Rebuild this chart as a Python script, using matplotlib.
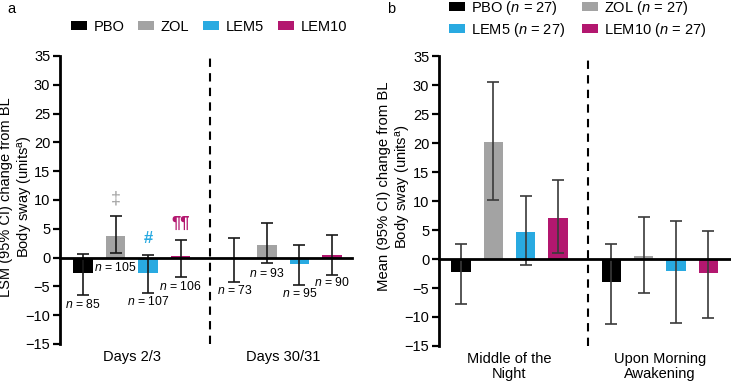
import matplotlib
matplotlib.use("Agg")
import matplotlib.pyplot as plt
from matplotlib.patches import Patch
import numpy as np

plt.rcParams['font.family'] = ['Liberation Sans', 'DejaVu Sans']
plt.rcParams['mathtext.fontset'] = 'custom'
plt.rcParams['mathtext.rm'] = 'Liberation Sans'
plt.rcParams['mathtext.it'] = 'Liberation Sans:italic'

# ---------------- data ----------------
treatments = ['PBO', 'ZOL', 'LEM5', 'LEM10']
colors = ['#000000', '#a3a3a3', '#29aae1', '#b3176f']

# Panel a (LSM change from BL), groups: Days 2/3, Days 30/31
groups_a = ['Days 2/3', 'Days 30/31']
mean_a = {'PBO': [-2.7, -0.2], 'ZOL': [3.8, 2.2], 'LEM5': [-2.6, -1.1], 'LEM10': [0.2, 0.4]}
lo_a = {'PBO': [-6.5, -4.2], 'ZOL': [0.8, -0.9], 'LEM5': [-6.1, -4.7], 'LEM10': [-3.4, -3.0]}
hi_a = {'PBO': [0.6, 3.4], 'ZOL': [7.3, 6.0], 'LEM5': [0.5, 2.2], 'LEM10': [3.0, 4.0]}
n_a = {'PBO': [85, 73], 'ZOL': [105, 93], 'LEM5': [107, 95], 'LEM10': [106, 90]}
sig_a = {'ZOL': '‡', 'LEM5': '#', 'LEM10': '¶¶'}

# Panel b (Mean change from BL), groups: Middle of the Night, Upon Morning Awakening
groups_b = ['Middle of the\nNight', 'Upon Morning\nAwakening']
mean_b = {'PBO': [-2.2, -3.9], 'ZOL': [20.1, 0.5], 'LEM5': [4.7, -2.0], 'LEM10': [7.0, -2.4]}
lo_b = {'PBO': [-7.8, -11.2], 'ZOL': [10.1, -5.9], 'LEM5': [-1.0, -11.0], 'LEM10': [1.0, -10.1]}
hi_b = {'PBO': [2.6, 2.6], 'ZOL': [30.6, 7.2], 'LEM5': [10.9, 6.5], 'LEM10': [13.7, 4.8]}
n_b = 27

yticks = list(range(-15, 40, 5))

# ---------------- layout ----------------
fig = plt.figure(figsize=(7.31, 3.84), dpi=100)
ax_a = fig.add_axes([0.0821, 0.1042, 0.3995, 0.75])
ax_b = fig.add_axes([0.6005, 0.0990, 0.3995, 0.755])

group_offset = 4.66
bar_w = 0.6


def draw_panel(ax, groups, mean, lo, hi, ecolor, xlim):
    for gi in range(len(groups)):
        for ti, t in enumerate(treatments):
            x = gi * group_offset + ti
            m = mean[t][gi]
            ax.bar(x, m, width=bar_w, color=colors[ti], zorder=2)
            ax.errorbar(x, m, yerr=[[m - lo[t][gi]], [hi[t][gi] - m]], fmt='none',
                        ecolor=ecolor, elinewidth=1.2, capsize=4.2, capthick=1.2, zorder=3)
    ax.set_xlim(*xlim)
    ax.set_ylim(-15, 35)
    ax.set_yticks(yticks)
    ax.tick_params(axis='y', labelsize=10.5, length=5, width=1.6, direction='out', pad=2)
    ax.set_xticks([1.5, group_offset + 1.5])
    ax.set_xticklabels(groups, fontsize=10.5, linespacing=1.15)
    ax.tick_params(axis='x', length=0, pad=4)
    for s in ['top', 'right', 'bottom']:
        ax.spines[s].set_visible(False)
    ax.spines['left'].set_linewidth(2)
    ax.axhline(0, color='black', lw=2, zorder=4, clip_on=False)
    ax.axvline(3.92, color='black', lw=1.5, ls=(0, (4, 3)), zorder=1)
    ax.set_facecolor('none')


draw_panel(ax_a, groups_a, mean_a, lo_a, hi_a, '#1a1a1a', (-0.71, 8.28))
draw_panel(ax_b, groups_b, mean_b, lo_b, hi_b, '#3a3a3a', (-0.68, 8.36))

ax_a.set_ylabel('LSM (95% CI) change from BL\nBody sway (units$^{\\mathrm{a}}$)', fontsize=10.5,
                linespacing=1.2)
ax_a.yaxis.set_label_coords(-0.086, 0.51)
ax_b.set_ylabel('Mean (95% CI) change from BL\nBody sway (units$^{\\mathrm{a}}$)', fontsize=10.7,
                linespacing=1.2)
ax_b.yaxis.set_label_coords(-0.089, 0.55)

# n annotations (panel a)
n_offsets = {'PBO': [1.7, 1.6], 'ZOL': [2.6, 1.8], 'LEM5': [1.6, 1.6], 'LEM10': [1.7, 1.4]}
for gi in range(2):
    for ti, t in enumerate(treatments):
        x = gi * group_offset + ti
        y = lo_a[t][gi] - n_offsets[t][gi]
        ax_a.text(x, y, '$\\it{n}$ = %d' % n_a[t][gi], ha='center', va='center', fontsize=8.8, zorder=5)

# significance symbols (panel a, Days 2/3)
sig_sizes = {'ZOL': 13, 'LEM5': 12, 'LEM10': 12}
for ti, t in enumerate(treatments):
    if t in sig_a:
        ax_a.text(ti, hi_a[t][0] + 2.9, sig_a[t], ha='center', va='center', fontsize=sig_sizes[t],
                  color=colors[ti], fontweight='bold' if t != 'ZOL' else 'normal')

# panel letters
fig.text(0.010, 0.977, 'a', fontsize=10.5, ha='left', va='center')
fig.text(0.530, 0.977, 'b', fontsize=10.5, ha='left', va='center')

# legends
handles_a = [Patch(facecolor=c, edgecolor='none', label=t) for t, c in zip(treatments, colors)]
fig.legend(handles=handles_a, loc='center left', bbox_to_anchor=(0.097, 0.930), ncol=4,
           frameon=False, fontsize=10.5, handlelength=1.1, handleheight=0.55,
           handletextpad=0.45, columnspacing=0.95, borderaxespad=0, borderpad=0)

order_b = ['PBO', 'LEM5', 'ZOL', 'LEM10']
handles_b = [Patch(facecolor=colors[treatments.index(t)], edgecolor='none',
                   label='%s ($\\it{n}$ = %d)' % (t, n_b)) for t in order_b]
fig.legend(handles=handles_b, loc='center left', bbox_to_anchor=(0.614, 0.951), ncol=2,
           frameon=False, fontsize=10.5, handlelength=1.1, handleheight=0.55,
           handletextpad=0.45, columnspacing=1.1, labelspacing=0.28, borderaxespad=0, borderpad=0)

fig.savefig('out.png', dpi=100)
